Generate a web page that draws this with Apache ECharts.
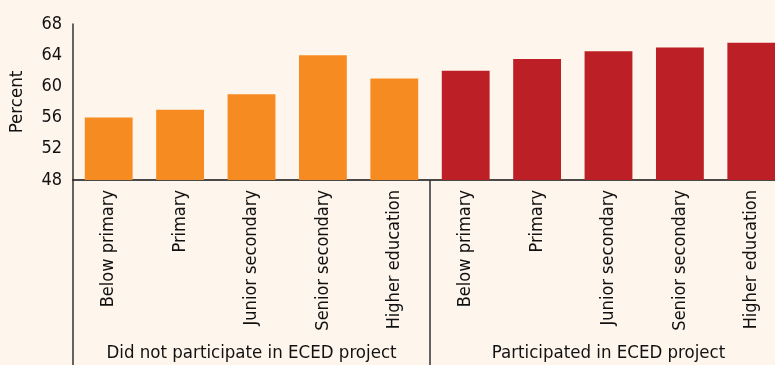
<!DOCTYPE html>
<html>
<head>
<meta charset="utf-8">
<script src="https://cdn.jsdelivr.net/npm/echarts@6/dist/echarts.min.js"></script>
<style>
html,body{margin:0;padding:0;background:#FEF5EC;overflow:hidden;width:775px;height:365px;}
#c{width:800px;height:365px;}
</style>
</head>
<body>
<div id="c"></div>
<script>
var levels = ['Below primary','Primary','Junior secondary','Senior secondary','Higher education'];
var groups = ['Did not participate in ECED project','Participated in ECED project'];
var notParticipated = [56, 57, 59, 64, 61];
var participated = [62, 63.5, 64.5, 65, 65.6];
var yTicks = [48, 52, 56, 60, 64, 68];

var categories = levels.concat(levels);
var blanks = levels.map(function(){ return '-'; });
var s1 = notParticipated.concat(blanks);
var s2 = blanks.concat(participated);

var FONT = 'DejaVu Sans Condensed';
var chart = echarts.init(document.getElementById('c'));
chart.setOption({
  backgroundColor: '#FEF5EC',
  animation: false,
  grid: { left: 73, top: 24, width: 714, height: 156, containLabel: false },
  xAxis: [{
    type: 'category',
    data: categories,
    position: 'bottom',
    axisLine: { show: true, lineStyle: { color: '#111', width: 1.5 } },
    axisTick: { show: false },
    axisLabel: { rotate: 90, interval: 0, margin: 10, color: '#111', fontFamily: FONT, fontSize: 18 }
  }, {
    type: 'category',
    data: groups,
    position: 'bottom',
    axisLine: { show: false },
    axisTick: { show: true, alignWithLabel: false, length: 190, lineStyle: { color: '#333', width: 1.5 } },
    axisLabel: { interval: 0, margin: 164, color: '#111', fontFamily: FONT, fontSize: 18.5 }
  }],
  yAxis: {
    type: 'value',
    min: yTicks[0],
    max: yTicks[yTicks.length - 1],
    interval: 4,
    name: 'Percent',
    nameLocation: 'middle',
    nameGap: 46,
    nameTextStyle: { color: '#111', fontFamily: FONT, fontSize: 18.5 },
    axisLine: { show: true, lineStyle: { color: '#333', width: 1.5 } },
    axisTick: { show: false },
    splitLine: { show: false },
    axisLabel: { color: '#111', fontFamily: FONT, fontSize: 18, margin: 11 }
  },
  series: [{
    type: 'bar',
    stack: 'all',
    data: s1,
    barWidth: '67%',
    itemStyle: { color: '#F68B21' }
  }, {
    type: 'bar',
    stack: 'all',
    data: s2,
    barWidth: '67%',
    itemStyle: { color: '#BC1F25' }
  }]
});
</script>
</body>
</html>
